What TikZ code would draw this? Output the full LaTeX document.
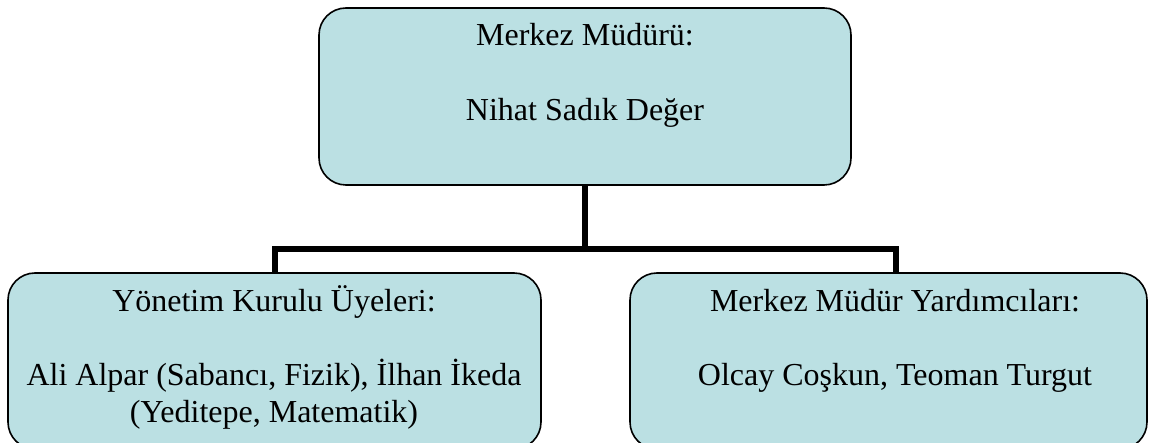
\documentclass[tikz,border=0pt]{standalone}
\usepackage{fontspec}
\setmainfont{Liberation Serif}
\definecolor{boxfill}{RGB}{187,224,227}
\begin{document}
\begin{tikzpicture}[x=1pt,y=-1pt,
  box/.style={draw=black,line width=1.6pt,fill=boxfill,rounded corners=27pt},
  txt/.style={anchor=base,inner sep=0pt,font=\fontsize{32}{37}\selectfont},
  conn/.style={draw=black,line width=5.5pt}]
\useasboundingbox (0,0) rectangle (1149,443);
\begin{scope}
\clip (0,0) rectangle (1149,443);
\path[box] (319,8) rectangle (851,185);
\node[inner sep=0pt] (top) at (585,96.5) [minimum width=532pt,minimum height=177pt] {};
\path[box] (8,273) rectangle (541,449);
\node[inner sep=0pt] (left) at (274.5,361) [minimum width=533pt,minimum height=176pt] {};
\path[box] (630,273) rectangle (1147,449);
\node[inner sep=0pt] (right) at (888.5,361) [minimum width=517pt,minimum height=176pt] {};
\end{scope}
\coordinate (j) at (585,249);
\coordinate (dl) at (275,273);
\coordinate (dr) at (896,273);
\draw[conn] (top.south) -- (j);
\draw[conn] (j) -| (dl);
\draw[conn] (j) -| (dr);
\node[txt] (t1) at (585,46) {Merkez Müdürü:};
\node[txt] (t2) at (585,121) {Nihat Sadık Değer};
\node[txt] (l1) at (274,312) {Yönetim Kurulu Üyeleri:};
\node[txt] (l2) at (274,386) {Ali Alpar (Sabancı, Fizik), İlhan İkeda};
\node[txt] (l3) at (274,423) {(Yeditepe, Matematik)};
\node[txt] (r1) at (895,312) {Merkez Müdür Yardımcıları:};
\node[txt] (r2) at (895,386) {Olcay Coşkun, Teoman Turgut};
\end{tikzpicture}
\end{document}
